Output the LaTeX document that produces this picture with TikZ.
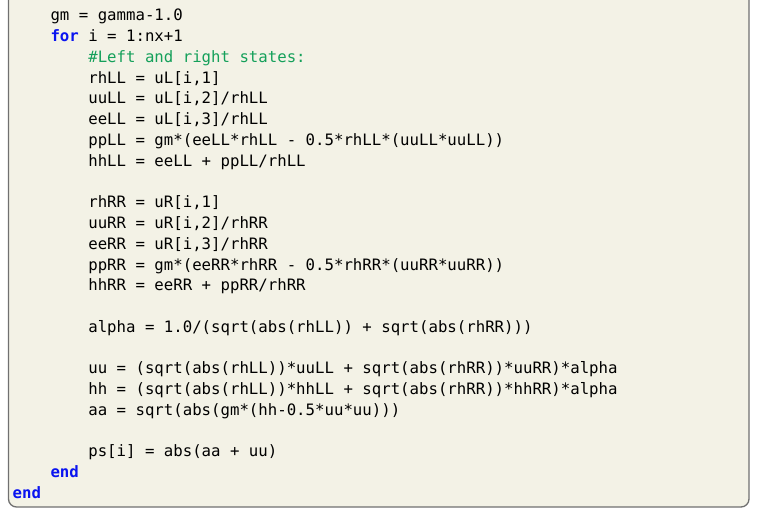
\documentclass[tikz,border=0pt]{standalone}
\usepackage{fontspec}
\setmonofont{DejaVu Sans Mono}
\definecolor{bgc}{HTML}{F3F2E6}
\definecolor{kw}{HTML}{0A14F0}
\definecolor{cm}{HTML}{14A05A}
\definecolor{frame}{HTML}{707070}
\begin{document}
\begin{tikzpicture}[x=1pt,y=-1pt,
  ln/.style={anchor=base west,inner sep=0pt,font=\fontsize{15.7}{18}\ttfamily,text=black}]
\useasboundingbox (0,0) rectangle (758,516);
\fill[bgc,rounded corners=8pt] (8.5,-10) -- (8.5,507) -- (749,507) -- (749,-10) -- cycle;
\draw[frame,line width=1.3pt,rounded corners=8pt] (8.5,-10) -- (8.5,507) -- (749,507) -- (749,-10);
\def\kw#1{\textcolor{kw}{\bfseries #1}}
\def\A{\phantom{xxxx}}
\def\B{\phantom{xxxxxxxx}}
\foreach \t [count=\i] in {
 {\A gm = gamma-1.0},
 {\A\kw{for} i = 1:nx+1},
 {\B\textcolor{cm}{\#Left and right states:}},
 {\B rhLL = uL[i,1]},
 {\B uuLL = uL[i,2]/rhLL},
 {\B eeLL = uL[i,3]/rhLL},
 {\B ppLL = gm*(eeLL*rhLL - 0.5*rhLL*(uuLL*uuLL))},
 {\B hhLL = eeLL + ppLL/rhLL},
 {},
 {\B rhRR = uR[i,1]},
 {\B uuRR = uR[i,2]/rhRR},
 {\B eeRR = uR[i,3]/rhRR},
 {\B ppRR = gm*(eeRR*rhRR - 0.5*rhRR*(uuRR*uuRR))},
 {\B hhRR = eeRR + ppRR/rhRR},
 {},
 {\B alpha = 1.0/(sqrt(abs(rhLL)) + sqrt(abs(rhRR)))},
 {},
 {\B uu = (sqrt(abs(rhLL))*uuLL + sqrt(abs(rhRR))*uuRR)*alpha},
 {\B hh = (sqrt(abs(rhLL))*hhLL + sqrt(abs(rhRR))*hhRR)*alpha},
 {\B aa = sqrt(abs(gm*(hh-0.5*uu*uu)))},
 {},
 {\B ps[i] = abs(aa + uu)},
 {\A\kw{end}},
 {\kw{end}}}
 \node[ln] (l\i) at (12.5, {21+(\i-1)*20.75}) {\strut\t};
\end{tikzpicture}
\end{document}
